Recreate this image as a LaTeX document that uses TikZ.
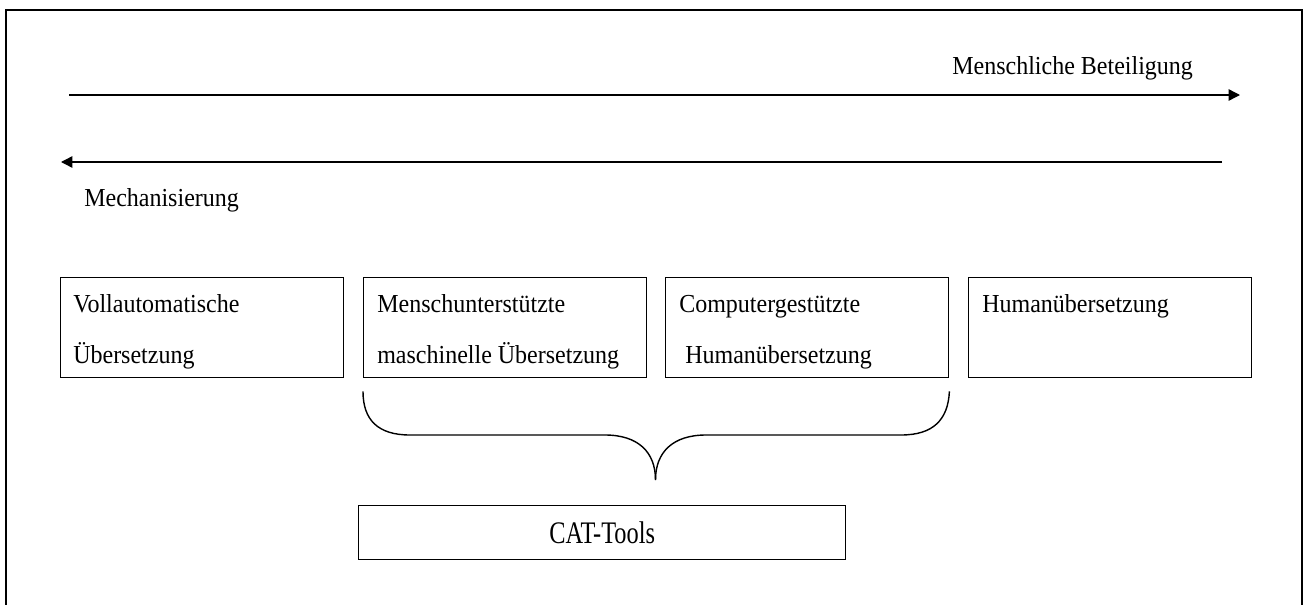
\documentclass[tikz,border=0pt]{standalone}
\usepackage{fontspec}
\setmainfont{Liberation Serif}
\usetikzlibrary{arrows.meta}

% slightly tall lettering
\newcommand\tallword[1]{\scalebox{1}[1.08]{#1}}

\tikzset{
  frameline/.style={line width=2pt},
  thin line/.style={line width=1.05pt},
  stepbox/.style={draw, thin line, minimum width=283*0.75pt, minimum height=100*0.75pt, inner sep=0pt, anchor=north west},
  boxtext/.style={anchor=base west, inner sep=0pt, align=left, font=\fontsize{18pt}{38.25pt}\selectfont},
  axislabel/.style={anchor=base west, inner sep=0pt, font=\fontsize{18pt}{22pt}\selectfont},
  axisarrow/.style={thin line, -{Triangle[length=8.5pt,width=8.5pt]}},
}

\begin{document}
\begin{tikzpicture}[x=0.75pt, y=-0.75pt]
  \useasboundingbox (0,0) rectangle (1304,604);
  \clip (0,0) rectangle (1304,604);

  % outer frame (its lower edge runs off the page)
  \draw[frameline] (6,620) -- (6,10) -- (1302,10) -- (1302,620);

  % scale of human involvement vs. mechanisation
  \coordinate (hStart) at (69,95);
  \coordinate (hEnd)   at (1240,95);
  \coordinate (mStart) at (1222,162);
  \coordinate (mEnd)   at (61,162);
  \draw[axisarrow] (hStart) -- (hEnd);
  \draw[axisarrow] (mStart) -- (mEnd);
  \node[axislabel] (human) at (952,74) {\tallword{Menschliche Beteiligung}};
  \node[axislabel] (mech)  at (84,206) {\tallword{Mechanisierung}};

  % the four kinds of translation
  \node[stepbox] (fa)  at (60,277)  {};
  \node[stepbox] (hamt) at (363,277) {};
  \node[stepbox] (cat) at (665,277) {};
  \node[stepbox] (ht)  at (968,277) {};

  % two-line labels sit on the baseline of their second line
  \node[boxtext] (faText)   at (73,363)  {\tallword{Vollautomatische}\\\tallword{Übersetzung}};
  \node[boxtext] (hamtText) at (377,363) {\tallword{Menschunterstützte}\\\tallword{maschinelle Übersetzung}};
  \node[boxtext] (catText)  at (679,363) {\tallword{Computergestützte}\\\hspace*{4.5pt}\tallword{Humanübersetzung}};
  \node[boxtext] (htText)   at (982,312) {\tallword{Humanübersetzung}};

  % brace grouping the two computer-assisted forms
  \coordinate (bl)  at (hamt.south west);
  \coordinate (br)  at (cat.south east);
  \coordinate (tip) at (655.5,480);
  \draw[thin line]
    ([yshift=-13*0.75pt]bl) .. controls (363,420) and (378,435) .. (410,435)
    -- (605,435) .. controls (638,435) and (655.5,452) .. (tip);
  \draw[thin line]
    ([yshift=-13*0.75pt]br) .. controls (948,420) and (933,435) .. (901,435)
    -- (706,435) .. controls (673,435) and (655.5,452) .. (tip);

  \node[draw, thin line, minimum width=487*0.75pt, minimum height=54*0.75pt, inner sep=0pt,
        anchor=north west] (tools) at (358,505) {};
  \node[inner sep=0pt, font=\fontsize{21pt}{25pt}\selectfont] (toolsText) at (tools.center)
    {\scalebox{0.87}[1.12]{CAT-Tools}};
\end{tikzpicture}
\end{document}
